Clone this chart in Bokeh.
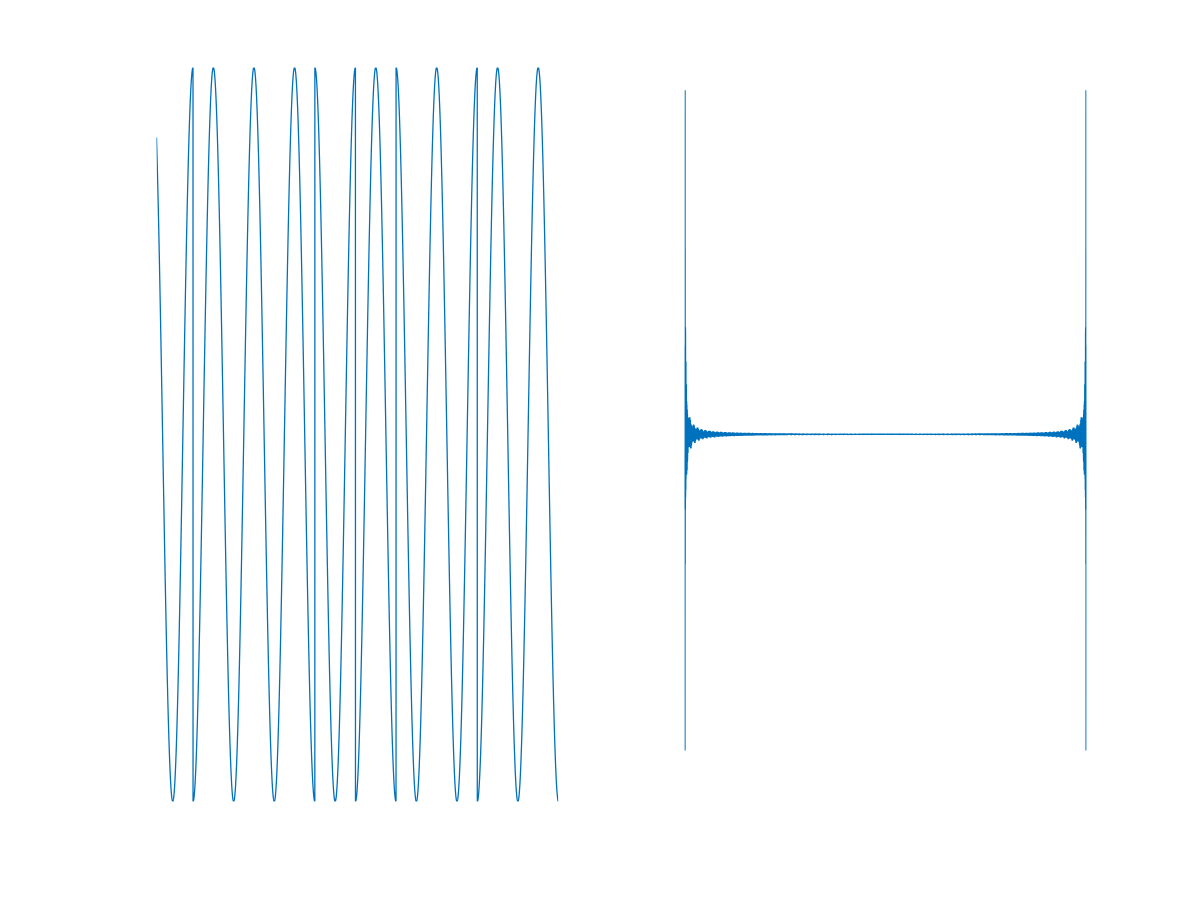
import numpy as np
from bokeh.plotting import figure
from bokeh.layouts import row
from bokeh.models import Range1d
from bokeh.embed import file_html
from bokeh.resources import INLINE

# ---- data ----
chip_code = [1, -1, -1, -1, 1, -1, 1, 1, -1, -1]   # phase code, one chip per carrier cycle
carrier_cycles_per_chip = [1.0]
time_span = [0.1, 10.0]                              # first and last sample (in chips)
n_samples = [10000]
signal_ylim = [-1, 1]
spectrum_ylim = [-1600, 1600]

N = n_samples[0]
t = np.linspace(time_span[0], time_span[1], N)
idx = np.minimum(np.floor(t).astype(int), len(chip_code) - 1)
signal = np.array(chip_code)[idx] * np.cos(2 * np.pi * carrier_cycles_per_chip[0] * t)
spectrum = np.real(np.fft.fft(signal))
k = np.arange(1, N + 1)

BLUE = "#0072BD"

def make_fig(left, right, xr, yr):
    p = figure(output_backend="svg", toolbar_location=None,
               frame_width=402, frame_height=734,
               min_border_left=left, min_border_right=right,
               min_border_top=67, min_border_bottom=99,
               x_axis_location=None, y_axis_location=None,
               x_range=xr, y_range=yr)
    p.outline_line_color = None
    p.xgrid.visible = False
    p.ygrid.visible = False
    p.background_fill_color = "white"
    p.border_fill_color = "white"
    return p

p1 = make_fig(156, 42, Range1d(time_span[0], time_span[1]),
              Range1d(signal_ylim[0], signal_ylim[1]))
p1.line(t, signal, line_color=BLUE, line_width=1.3)

p2 = make_fig(84, 114, Range1d(0, N), Range1d(spectrum_ylim[0], spectrum_ylim[1]))
p2.line(k, spectrum, line_color=BLUE, line_width=1.3)

layout = row(p1, p2)
open("out.html", "w").write(file_html(layout, INLINE))
